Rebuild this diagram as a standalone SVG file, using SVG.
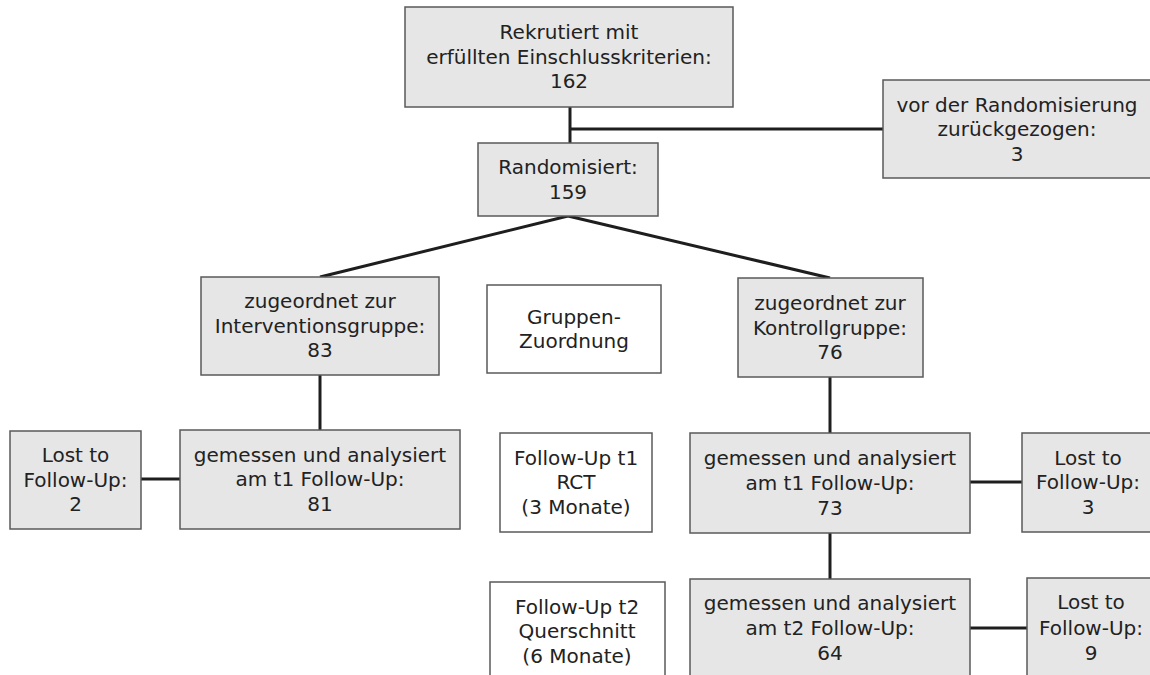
<svg xmlns="http://www.w3.org/2000/svg" width="1150" height="675" viewBox="0 0 1150 675">
<style>
.box{fill:#e6e6e6;stroke:#5a5a5a;stroke-width:1.5}
.wbox{fill:#ffffff;stroke:#5a5a5a;stroke-width:1.5}
.t{font-family:"DejaVu Sans",sans-serif;font-size:20px;fill:#222;text-anchor:middle}
.c{stroke:#1e1e1e;stroke-width:3;fill:none}
</style>
<rect width="1150" height="675" fill="#ffffff"/>
<g id="connectors">
<line class="c" x1="570" y1="107" x2="570" y2="143"/>
<line class="c" x1="570" y1="129" x2="883" y2="129"/>
<line class="c" x1="568" y1="216" x2="320" y2="277"/>
<line class="c" x1="568" y1="216" x2="830" y2="278"/>
<line class="c" x1="320" y1="375" x2="320" y2="430"/>
<line class="c" x1="141" y1="479" x2="180" y2="479"/>
<line class="c" x1="830" y1="377" x2="830" y2="433"/>
<line class="c" x1="830" y1="533" x2="830" y2="579"/>
<line class="c" x1="970" y1="482" x2="1022" y2="482"/>
<line class="c" x1="970" y1="628" x2="1027" y2="628"/>
</g>
<g id="rekrutiert">
<rect class="box" x="405" y="7" width="328" height="100"/>
<text class="t" x="569" y="39">Rekrutiert mit</text>
<text class="t" x="569" y="64">erfüllten Einschlusskriterien:</text>
<text class="t" x="569" y="88">162</text>
</g>
<g id="zurueckgezogen">
<rect class="box" x="883" y="80" width="272" height="98"/>
<text class="t" x="1017" y="112">vor der Randomisierung</text>
<text class="t" x="1017" y="136">zurückgezogen:</text>
<text class="t" x="1017" y="161">3</text>
</g>
<g id="randomisiert">
<rect class="box" x="478" y="143" width="180" height="73"/>
<text class="t" x="568" y="174">Randomisiert:</text>
<text class="t" x="568" y="199">159</text>
</g>
<g id="intervention">
<rect class="box" x="201" y="277" width="238" height="98"/>
<text class="t" x="320" y="308">zugeordnet zur</text>
<text class="t" x="320" y="333">Interventionsgruppe:</text>
<text class="t" x="320" y="357">83</text>
</g>
<g id="gruppenzuordnung">
<rect class="wbox" x="487" y="285" width="174" height="88"/>
<text class="t" x="574" y="324">Gruppen-</text>
<text class="t" x="574" y="348">Zuordnung</text>
</g>
<g id="kontrolle">
<rect class="box" x="738" y="278" width="185" height="99"/>
<text class="t" x="830" y="310">zugeordnet zur</text>
<text class="t" x="830" y="335">Kontrollgruppe:</text>
<text class="t" x="830" y="359">76</text>
</g>
<g id="lost-int-t1">
<rect class="box" x="10" y="431" width="131" height="98"/>
<text class="t" x="75.5" y="462">Lost to</text>
<text class="t" x="75.5" y="487">Follow-Up:</text>
<text class="t" x="75.5" y="511">2</text>
</g>
<g id="int-t1">
<rect class="box" x="180" y="430" width="280" height="99"/>
<text class="t" x="320" y="462">gemessen und analysiert</text>
<text class="t" x="320" y="486">am t1 Follow-Up:</text>
<text class="t" x="320" y="511">81</text>
</g>
<g id="followup-t1">
<rect class="wbox" x="500" y="433" width="152" height="99"/>
<text class="t" x="576" y="465">Follow-Up t1</text>
<text class="t" x="576" y="489">RCT</text>
<text class="t" x="576" y="514">(3 Monate)</text>
</g>
<g id="kon-t1">
<rect class="box" x="690" y="433" width="280" height="100"/>
<text class="t" x="830" y="465">gemessen und analysiert</text>
<text class="t" x="830" y="490">am t1 Follow-Up:</text>
<text class="t" x="830" y="515">73</text>
</g>
<g id="lost-kon-t1">
<rect class="box" x="1022" y="433" width="133" height="99"/>
<text class="t" x="1088" y="465">Lost to</text>
<text class="t" x="1088" y="489">Follow-Up:</text>
<text class="t" x="1088" y="514">3</text>
</g>
<g id="followup-t2">
<rect class="wbox" x="490" y="582" width="175" height="100"/>
<text class="t" x="577" y="614">Follow-Up t2</text>
<text class="t" x="577" y="638">Querschnitt</text>
<text class="t" x="577" y="663">(6 Monate)</text>
</g>
<g id="kon-t2">
<rect class="box" x="690" y="579" width="280" height="100"/>
<text class="t" x="830" y="610">gemessen und analysiert</text>
<text class="t" x="830" y="635">am t2 Follow-Up:</text>
<text class="t" x="830" y="660">64</text>
</g>
<g id="lost-kon-t2">
<rect class="box" x="1027" y="578" width="128" height="100"/>
<text class="t" x="1091" y="609">Lost to</text>
<text class="t" x="1091" y="635">Follow-Up:</text>
<text class="t" x="1091" y="660">9</text>
</g>
</svg>
